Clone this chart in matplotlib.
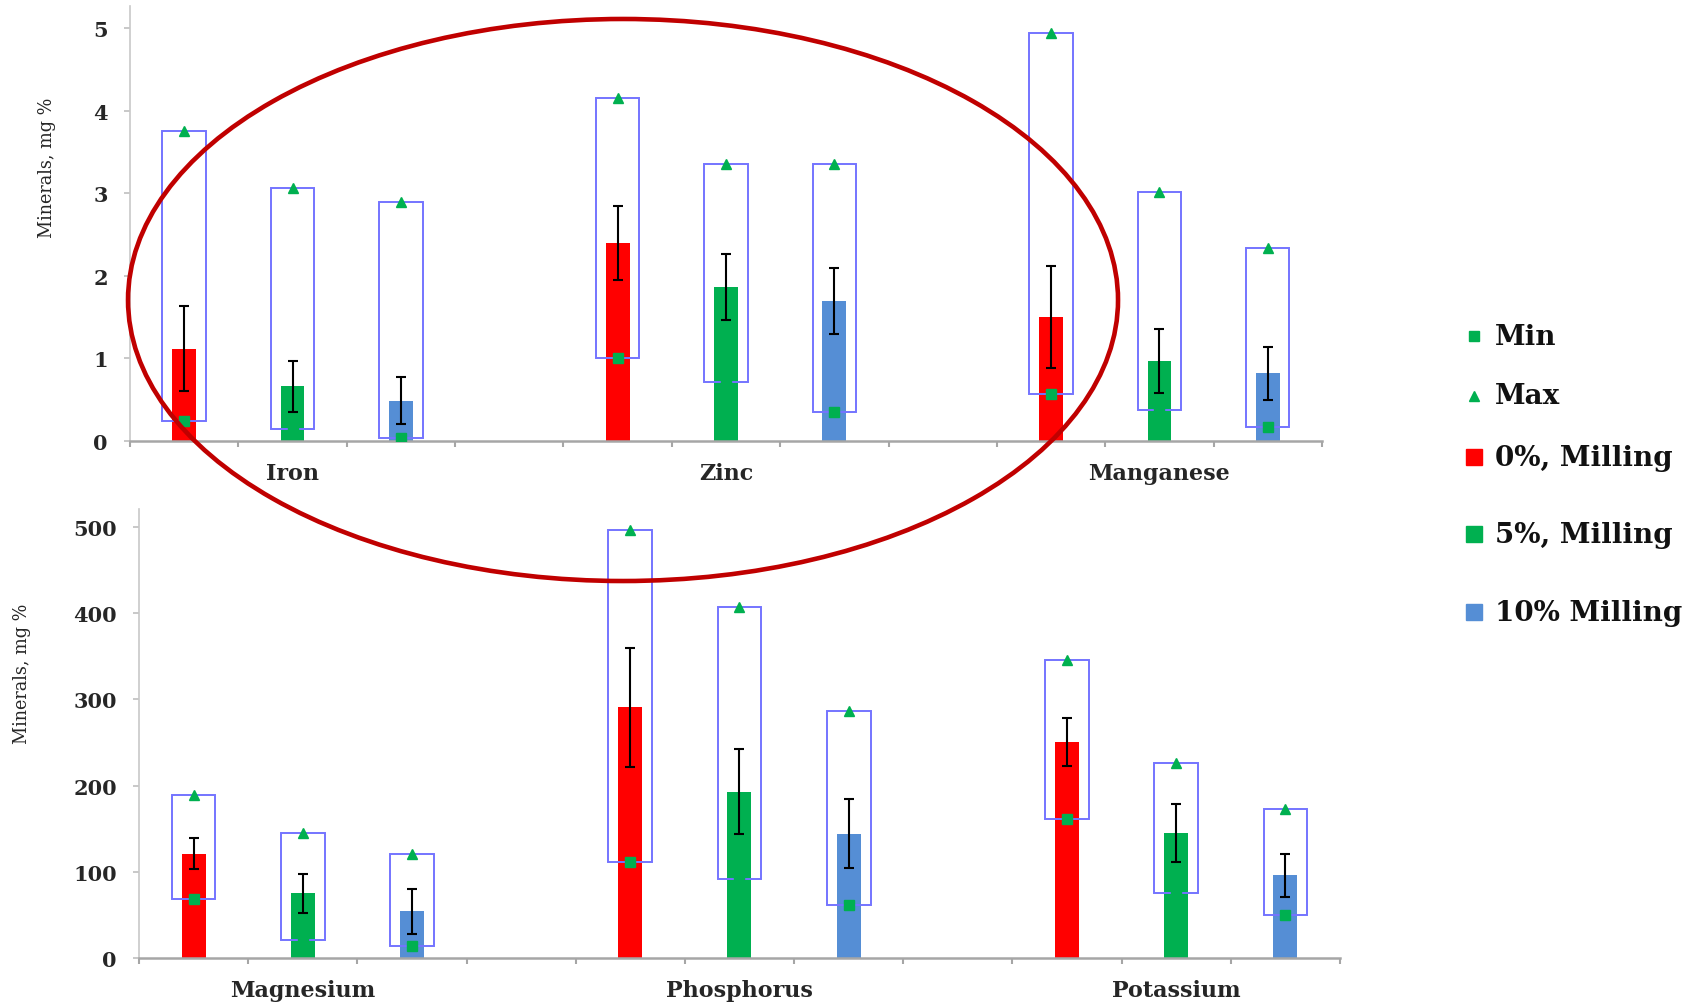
import matplotlib
matplotlib.use("Agg")
import matplotlib.pyplot as plt
from matplotlib.patches import Ellipse
from matplotlib.lines import Line2D
import numpy as np

# ---------------- data ----------------
series_labels = ["0%, Milling", "5%, Milling", "10% Milling"]

top_minerals = ["Iron", "Zinc", "Manganese"]
top_means = [[1.12, 0.66, 0.49], [2.40, 1.86, 1.70], [1.50, 0.97, 0.82]]
top_errs = [[0.51, 0.31, 0.28], [0.45, 0.40, 0.40], [0.62, 0.39, 0.32]]
top_mins = [[0.24, 0.15, 0.04], [1.01, 0.72, 0.35], [0.57, 0.38, 0.17]]
top_maxs = [[3.75, 3.06, 2.90], [4.15, 3.35, 3.35], [4.94, 3.02, 2.34]]
top_yticks = [0, 1, 2, 3, 4, 5]

bot_minerals = ["Magnesium", "Phosphorus", "Potassium"]
bot_means = [[121, 75, 54], [291, 193, 144], [251, 145, 96]]
bot_errs = [[18, 23, 26], [69, 49, 40], [28, 34, 25]]
bot_mins = [[69, 21, 14], [112, 92, 62], [161, 75, 50]]
bot_maxs = [[189, 145, 121], [497, 407, 287], [346, 226, 173]]
bot_yticks = [0, 100, 200, 300, 400, 500]

# ---------------- style ----------------
bar_colors = ["#FF0000", "#00B050", "#558ED5"]
marker_green = "#00B050"
box_color = "#7474FF"

plt.rcParams["font.family"] = ["DejaVu Serif"]
plt.rcParams["font.weight"] = "bold"

fig = plt.figure(figsize=(16.99, 10.04), dpi=100)
ax_top = fig.add_axes([0.0765, 0.5598, 0.7016, 0.4333])
ax_bot = fig.add_axes([0.0818, 0.0448, 0.7069, 0.4472])


def draw_panel(ax, minerals, means, errs, mins, maxs, yticks, ytop, label_xy):
    n_groups = len(minerals)
    for s in range(3):
        xs = np.array([4 * g + s for g in range(n_groups)])
        m = np.array([means[g][s] for g in range(n_groups)])
        e = np.array([errs[g][s] for g in range(n_groups)])
        lo = np.array([mins[g][s] for g in range(n_groups)])
        hi = np.array([maxs[g][s] for g in range(n_groups)])
        ax.bar(xs, m, width=0.22, color=bar_colors[s], zorder=2)
        ax.bar(xs, hi - lo, bottom=lo, width=0.40, fill=False,
               edgecolor=box_color, linewidth=1.4, zorder=3)
        ax.errorbar(xs, m, yerr=e, fmt="none", ecolor="black",
                    elinewidth=1.5, capsize=3.5, capthick=1.5, zorder=4)
        ax.plot(xs, lo, linestyle="none", marker="s", color=marker_green,
                markersize=7.5, zorder=5)
        ax.plot(xs, hi, linestyle="none", marker="^", color=marker_green,
                markersize=7, zorder=5)

    ax.set_xlim(-0.5, 4 * n_groups - 1.5)
    ax.set_ylim(0, ytop)
    ax.set_yticks(yticks)
    ax.set_yticklabels([str(t) for t in yticks])
    ax.set_xticks([4 * g + 1 for g in range(n_groups)])
    ax.set_xticklabels(minerals)
    ax.set_xticks(np.arange(-0.5, 4 * n_groups - 1, 1.0), minor=True)
    ax.tick_params(axis="x", which="major", length=0, pad=15,
                   labelsize=16, labelcolor="#262626")
    ax.tick_params(axis="x", which="minor", length=4, width=1.5,
                   color="#A6A6A6", direction="out")
    ax.tick_params(axis="y", which="major", length=4, width=1.2,
                   color="#BFBFBF", direction="out", pad=12,
                   labelsize=15, labelcolor="#262626")
    for side in ("top", "right"):
        ax.spines[side].set_visible(False)
    ax.spines["left"].set_color("#C8C8C8")
    ax.spines["left"].set_linewidth(1.2)
    ax.spines["bottom"].set_color("#A6A6A6")
    ax.spines["bottom"].set_linewidth(1.8)
    ax.set_ylabel("Minerals, mg %", fontsize=12.7, color="#262626")
    ax.yaxis.set_label_coords(*label_xy)


draw_panel(ax_top, top_minerals, top_means, top_errs, top_mins, top_maxs,
           top_yticks, 5.27, (-0.062, 0.63))
draw_panel(ax_bot, bot_minerals, bot_means, bot_errs, bot_mins, bot_maxs,
           bot_yticks, 521, (-0.090, 0.635))

# ---------------- legend (manual placement) ----------------
legend_entries = [
    ("s", marker_green, 7, "Min"),
    ("^", marker_green, 7, "Max"),
    ("s", bar_colors[0], 12, series_labels[0]),
    ("s", bar_colors[1], 12, series_labels[1]),
    ("s", bar_colors[2], 12, series_labels[2]),
]
legend_y = [0.6643, 0.6046, 0.5438, 0.4671, 0.3894]
for (mk, col, ms, lab), y in zip(legend_entries, legend_y):
    fig.add_artist(Line2D([0.8676], [y], transform=fig.transFigure,
                          marker=mk, color=col, markersize=ms,
                          linestyle="none"))
    fig.text(0.880, y, lab, fontsize=20, va="center", ha="left",
             color="#111111")

# ---------------- red highlight ellipse ----------------
fig.add_artist(Ellipse((0.3667, 0.7002), 0.5827, 0.5598,
                       transform=fig.transFigure, fill=False,
                       edgecolor="#C00000", linewidth=3.3, zorder=10))

fig.savefig("out.png", dpi=100)
